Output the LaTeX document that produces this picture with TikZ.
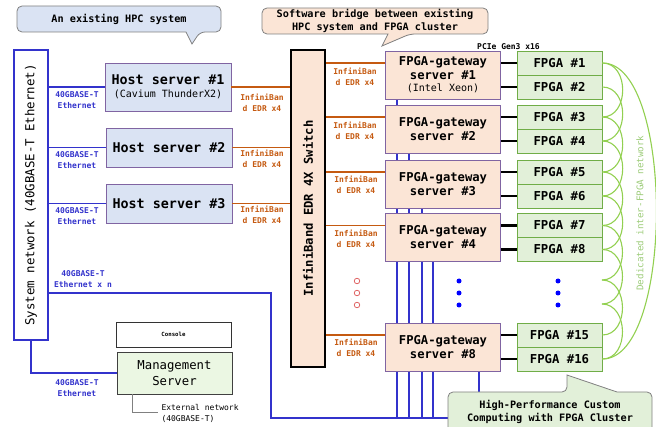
\documentclass[tikz,border=0pt]{standalone}
\usepackage{fontspec}
\setmonofont{DejaVu Sans Mono}
\usepackage{xcolor}
\usetikzlibrary{calc,backgrounds}

\definecolor{ethblue}{HTML}{3333CC}
\definecolor{ibbrown}{HTML}{C55A11}
\definecolor{hostfill}{HTML}{DAE3F3}
\definecolor{srvframe}{HTML}{8064A2}
\definecolor{gwfill}{HTML}{FBE5D6}
\definecolor{fpgafill}{HTML}{E2F0D9}
\definecolor{fpgaframe}{HTML}{70AD47}
\definecolor{linkgreen}{HTML}{92D050}
\definecolor{linktext}{HTML}{9CCB78}
\definecolor{mgmtfill}{HTML}{EBF7E3}
\definecolor{dotred}{HTML}{E06666}

\tikzstyle{host}=[draw=srvframe,fill=hostfill,line width=0.9pt,minimum width=126pt,align=center,font=\ttfamily\bfseries\fontsize{13.4}{14}\selectfont]
\tikzstyle{gateway}=[draw=srvframe,fill=gwfill,line width=0.9pt,minimum width=115pt,minimum height=48pt,align=center,font=\ttfamily\bfseries\fontsize{12.2}{14}\selectfont]
\tikzstyle{fpga}=[draw=fpgaframe,fill=fpgafill,line width=0.9pt,minimum width=85pt,minimum height=24pt,font=\ttfamily\bfseries\fontsize{12.3}{14}\selectfont]
\tikzstyle{ethlabel}=[text=ethblue,align=center,font=\ttfamily\bfseries\fontsize{8}{11}\selectfont]
\tikzstyle{iblabel}=[text=ibbrown,align=center,font=\ttfamily\bfseries\fontsize{8}{11}\selectfont]
\tikzstyle{ethline}=[draw=ethblue,line width=1.2pt]
\tikzstyle{ibline}=[draw=ibbrown,line width=1.4pt]
\tikzstyle{pcie}=[draw=black,line width=2.4pt]
\tikzstyle{fpgalink}=[draw=linkgreen,line width=1.1pt]
\tikzstyle{note}=[align=center,font=\ttfamily\bfseries\fontsize{10.2}{13}\selectfont]
\tikzstyle{notebox}=[draw=gray,line width=0.8pt,rounded corners=5pt]
\tikzstyle{reddot}=[circle,draw=dotred,fill=white,line width=0.8pt,inner sep=0pt,minimum size=5.5pt]
\tikzstyle{bluedot}=[circle,fill=blue,inner sep=0pt,minimum size=5pt]

\begin{document}
\begin{tikzpicture}[x=1pt,y=-1pt]
    \useasboundingbox (0,0) rectangle (656,427);

    % Callouts on top
    \draw[notebox,fill=hostfill] (100,6) -- (221,6) -- (221,32) -- (200,32) [sharp corners] -- (192,44) -- (186,32) [rounded corners=5pt] -- (17,32) -- (17,6) -- cycle;
    \node[note] (hpcnote) at (119,19) {An existing HPC system};

    \draw[notebox,fill=gwfill] (375,8) -- (488,8) -- (488,34) -- (410,34) [sharp corners] -- (382,46) -- (388,34) [rounded corners=5pt] -- (262,34) -- (262,8) -- cycle;
    \node[note] (bridgenote) at (375,21) {Software bridge between existing\\HPC system and FPGA cluster};

    % System network
    \node[draw=ethblue,fill=white,line width=1.4pt,minimum width=34pt,minimum height=290pt] (sysnet) at (31,195) {};
    \node[rotate=90,font=\ttfamily\fontsize{12.4}{14}\selectfont] (sysnettext) at (sysnet.center) {System network (40GBASE-T Ethernet)};

    % Host servers
    \node[host,minimum height=48pt] (host1) at (168,87) {Host server \#1\\[-1pt]{\mdseries\fontsize{10}{12}\selectfont(Cavium ThunderX2)}};
    \node[host,minimum height=39pt] (host2) at (169,147.5) {Host server \#2};
    \node[host,minimum height=39pt] (host3) at (169,203.5) {Host server \#3};

    % Ethernet to the hosts
    \draw[ethline] (host1.west) -- (host1.west -| sysnet.east);
    \draw[ethline] (host2.west) -- (host2.west -| sysnet.east);
    \draw[ethline] (host3.west) -- (host3.west -| sysnet.east);
    \node[ethlabel] (eth1) at (77,100) {40GBASE-T\\Ethernet};
    \node[ethlabel] (eth2) at (77,160.5) {40GBASE-T\\Ethernet};
    \node[ethlabel] (eth3) at (77,216.5) {40GBASE-T\\Ethernet};

    % InfiniBand switch
    \node[draw=black,fill=gwfill,line width=1.4pt,minimum width=34pt,minimum height=317pt] (sw) at (308,208.5) {};
    \node[rotate=90,font=\ttfamily\bfseries\fontsize{12.2}{14}\selectfont] (swtext) at (sw.center) {InfiniBand EDR 4X Switch};

    \draw[ibline] (host1.east) -- (host1.east -| sw.west);
    \draw[ibline] (host2.east) -- (host2.east -| sw.west);
    \draw[ibline] (host3.east) -- (host3.east -| sw.west);
    \node[iblabel] (ibh1) at (262,103) {InfiniBan\\d EDR x4};
    \node[iblabel] (ibh2) at (262,159) {InfiniBan\\d EDR x4};
    \node[iblabel] (ibh3) at (262,215) {InfiniBan\\d EDR x4};

    % FPGA-gateway servers
    \node[gateway] (gw1) at (443,75) {FPGA-gateway\\server \#1\\[-2pt]{\mdseries\fontsize{10}{12}\selectfont(Intel Xeon)}};
    \node[gateway] (gw2) at (443,129) {FPGA-gateway\\server \#2};
    \node[gateway] (gw3) at (443,184) {FPGA-gateway\\server \#3};
    \node[gateway] (gw4) at (443,237.5) {FPGA-gateway\\server \#4};
    \node[gateway] (gw8) at (443,347) {FPGA-gateway\\server \#8};

    \draw[ibline] ([yshift=12pt]gw1.west) -- ([yshift=12pt]gw1.west -| sw.east);
    \draw[ibline] ([yshift=12pt]gw2.west) -- ([yshift=12pt]gw2.west -| sw.east);
    \draw[ibline] ([yshift=12pt]gw3.west) -- ([yshift=12pt]gw3.west -| sw.east);
    \draw[ibline] ([yshift=12pt]gw4.west) -- ([yshift=12pt]gw4.west -| sw.east);
    \draw[ibline] ([yshift=12pt]gw8.west) -- ([yshift=12pt]gw8.west -| sw.east);
    \node[iblabel] (ibg1) at (355,76.5) {InfiniBan\\d EDR x4};
    \node[iblabel] (ibg2) at (355,130.5) {InfiniBan\\d EDR x4};
    \node[iblabel] (ibg3) at (356,184.5) {InfiniBan\\d EDR x4};
    \node[iblabel] (ibg4) at (356,238.5) {InfiniBan\\d EDR x4};
    \node[iblabel] (ibg8) at (356,348) {InfiniBan\\d EDR x4};

    % FPGA boards
    \node[fpga] (f1) at (559.5,63) {FPGA \#1};
    \node[fpga] (f2) at (559.5,87) {FPGA \#2};
    \node[fpga] (f3) at (559.5,117) {FPGA \#3};
    \node[fpga] (f4) at (559.5,141) {FPGA \#4};
    \node[fpga] (f5) at (559.5,172) {FPGA \#5};
    \node[fpga] (f6) at (559.5,196) {FPGA \#6};
    \node[fpga] (f7) at (559.5,225.5) {FPGA \#7};
    \node[fpga] (f8) at (559.5,249.5) {FPGA \#8};
    \node[fpga] (f15) at (559.5,335) {FPGA \#15};
    \node[fpga] (f16) at (559.5,359) {FPGA \#16};

    % PCIe links
    \node[font=\ttfamily\bfseries\fontsize{8}{10}\selectfont] (pcie) at (508.5,46.5) {PCIe Gen3 x16};
    \draw[pcie] (f1.west) -- (f1.west -| gw1.east);
    \draw[pcie] (f2.west) -- (f2.west -| gw1.east);
    \draw[pcie] (f3.west) -- (f3.west -| gw2.east);
    \draw[pcie] (f4.west) -- (f4.west -| gw2.east);
    \draw[pcie] (f5.west) -- (f5.west -| gw3.east);
    \draw[pcie] (f6.west) -- (f6.west -| gw3.east);
    \draw[pcie] (f7.west) -- (f7.west -| gw4.east);
    \draw[pcie] (f8.west) -- (f8.west -| gw4.east);
    \draw[pcie] (f15.west) -- (f15.west -| gw8.east);
    \draw[pcie] (f16.west) -- (f16.west -| gw8.east);

    % Dots for the missing servers
    \node[reddot] (r1) at (357,281) {};
    \node[reddot] (r2) at (357,293) {};
    \node[reddot] (r3) at (357,305) {};
    \node[bluedot] (b1) at (459,281) {};
    \node[bluedot] (b2) at (459,293) {};
    \node[bluedot] (b3) at (459,305) {};
    \node[bluedot] (c1) at (558,281) {};
    \node[bluedot] (c2) at (558,293) {};
    \node[bluedot] (c3) at (558,305) {};

    % Inter-FPGA network
    \coordinate (f9) at (602,280);
    \coordinate (f10) at (602,304);
    \draw[fpgalink] (f1.east) .. controls +(27,0) and +(27,0) .. (f3.east);
    \draw[fpgalink] (f2.east) .. controls +(27,0) and +(27,0) .. (f4.east);
    \draw[fpgalink] (f3.east) .. controls +(27,0) and +(27,0) .. (f5.east);
    \draw[fpgalink] (f4.east) .. controls +(27,0) and +(27,0) .. (f6.east);
    \draw[fpgalink] (f5.east) .. controls +(27,0) and +(27,0) .. (f7.east);
    \draw[fpgalink] (f6.east) .. controls +(27,0) and +(27,0) .. (f8.east);
    \draw[fpgalink] (f7.east) .. controls +(27,0) and +(27,0) .. (f9);
    \draw[fpgalink] (f8.east) .. controls +(27,0) and +(27,0) .. (f10);
    \draw[fpgalink] (f9) .. controls +(27,0) and +(27,0) .. (f15.east);
    \draw[fpgalink] (f10) .. controls +(27,0) and +(27,0) .. (f16.east);
    \draw[fpgalink] (f1.east) .. controls +(72,0) and +(72,0) .. (f16.east);
    \node[rotate=90,text=linktext,font=\ttfamily\fontsize{9.2}{11}\selectfont] (linktext) at (640,213) {Dedicated inter-FPGA network};

    % Ethernet bus to the gateways
    \coordinate (busL) at (271,418);
    \coordinate (busR) at (479,418);
    \begin{pgfonlayer}{background}
    \draw[ethline] ([yshift=-98pt]sysnet.east) -| (busL) -- (busR);
    \draw[ethline] ([xshift=-46pt]gw1.south) -- ([xshift=-46pt]gw1.south |- busL);
    \draw[ethline] ([xshift=-34pt]gw2.south) -- ([xshift=-34pt]gw2.south |- busL);
    \draw[ethline] ([xshift=-21pt]gw3.south) -- ([xshift=-21pt]gw3.south |- busL);
    \draw[ethline] ([xshift=-10pt]gw4.south) -- ([xshift=-10pt]gw4.south |- busL);
    \draw[ethline] (gw8.south -| busR) -- (busR);
    \end{pgfonlayer}
    \node[ethlabel] (ethn) at (83,279.5) {40GBASE-T\\Ethernet x n};

    % Management
    \node[draw=black!80,fill=white,line width=0.9pt,minimum width=115pt,minimum height=25pt,font=\ttfamily\bfseries\fontsize{5.7}{7}\selectfont] (console) at (173.5,334.5) {Console};
    \node[draw=black!75,fill=mgmtfill,line width=0.9pt,minimum width=115pt,minimum height=42pt,align=center,font=\ttfamily\fontsize{12.3}{16}\selectfont] (mgmt) at (174.5,373) {Management\\Server};
    \draw[ethline] (sysnet.south) |- (mgmt.west);
    \node[ethlabel] (ethm) at (77,388.5) {40GBASE-T\\Ethernet};
    \node[anchor=west,align=left,font=\ttfamily\fontsize{8}{11}\selectfont] (extnet) at (158,413) {External network\\(40GBASE-T)};
    \draw[draw=gray,line width=1pt] ([xshift=-42.5pt]mgmt.south) |- (extnet.west);

    % Callout at the bottom
    \draw[notebox,fill=fpgafill] (550,392) -- (567,392) [sharp corners] -- (567,375) -- (617,392) [rounded corners=5pt] -- (652,392) -- (652,440) -- (448,440) -- (448,392) -- cycle;
    \node[note] (hpccnote) at (550,412) {High-Performance Custom\\Computing with FPGA Cluster};

\end{tikzpicture}
\end{document}
